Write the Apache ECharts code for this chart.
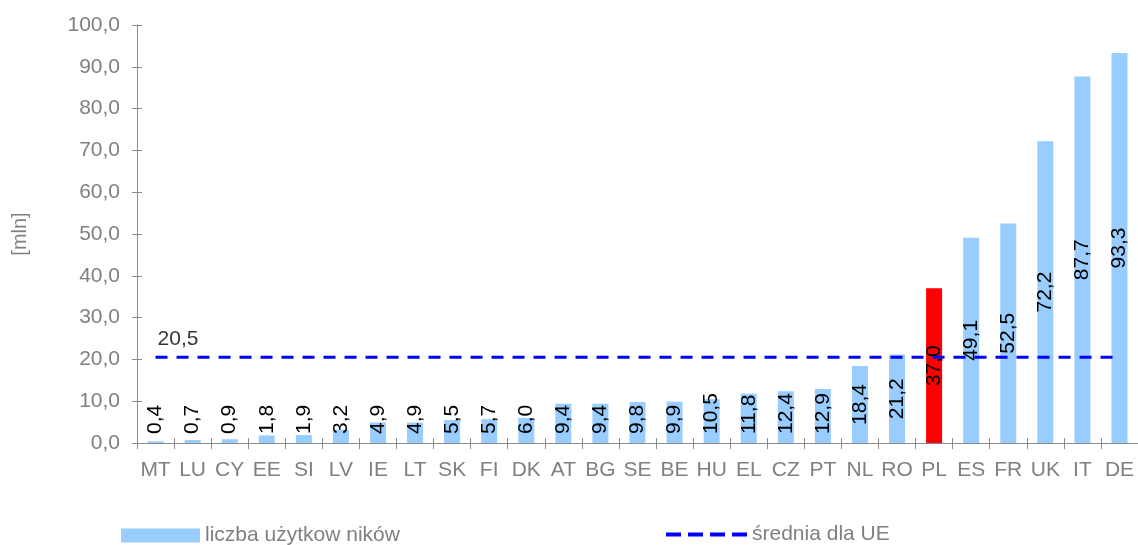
<!DOCTYPE html>
<html>
<head>
<meta charset="utf-8">
<script src="https://cdn.jsdelivr.net/npm/echarts@6/dist/echarts.min.js"></script>
<style>
html,body{margin:0;padding:0;background:#fff;}
#chart{width:1138px;height:545px;}
</style>
</head>
<body>
<div id="chart"></div>
<script>
var categories = ['MT','LU','CY','EE','SI','LV','IE','LT','SK','FI','DK','AT','BG','SE','BE','HU','EL','CZ','PT','NL','RO','PL','ES','FR','UK','IT','DE'];
var users = [0.4,0.7,0.9,1.8,1.9,3.2,4.9,4.9,5.5,5.7,6.0,9.4,9.4,9.8,9.9,10.5,11.8,12.4,12.9,18.4,21.2,37.0,49.1,52.5,72.2,87.7,93.3];
var euAverage = 20.5;
var highlighted = 'PL';
var yTicks = {min: 0, max: 100, interval: 10};
var seriesNames = ['liczba użytkow ników', 'średnia dla UE'];

var FONT = "'Liberation Sans', Arial, sans-serif";
var FS = 21;
var GRAY = '#808080';
var AXIS = '#8c8c8c';
var BLUE_BAR = '#99ccff';
function fmt(v){ return v.toFixed(1).replace('.', ','); }

var gridTop = 25, gridHeight = 418;
var pxPerUnit = gridHeight / (yTicks.max - yTicks.min);
var ctx = document.createElement('canvas').getContext('2d');
ctx.font = FS + 'px ' + FONT;

var barData = users.map(function(v, i){
  var len = ctx.measureText(fmt(v)).width;
  var h = v * pxPerUnit;
  var useCenter = (h/2 - len/2) >= 9;
  return {
    value: v,
    itemStyle: {color: categories[i] === highlighted ? '#ff0000' : BLUE_BAR},
    label: useCenter ? {position: 'inside', align: 'center', verticalAlign: 'middle'}
                     : {position: 'insideBottom', distance: 9, align: 'left', verticalAlign: 'middle'}
  };
});
var lineData = categories.map(function(){ return euAverage; });

var dashIcon = 'path://M0 0L15 0L15 4L0 4ZM22 0L37 0L37 4L22 4ZM44 0L59 0L59 4L44 4ZM66 0L81 0L81 4L66 4Z';

var chart = echarts.init(document.getElementById('chart'), null, {renderer: 'canvas'});
chart.setOption({
  animation: false,
  backgroundColor: '#fff',
  grid: {left: 137, top: gridTop, width: 1004, height: gridHeight, containLabel: false},
  legend: [
    {left: 121, top: 525, padding: 0, itemWidth: 79, itemHeight: 14, itemGap: 0, selectedMode: false,
     data: [{name: seriesNames[0], icon: 'rect', itemStyle: {color: BLUE_BAR}}],
     textStyle: {color: GRAY, fontSize: FS, fontFamily: FONT}},
    {left: 666, top: 524, padding: 0, itemWidth: 81, itemHeight: 14, itemGap: 0, selectedMode: false, symbolKeepAspect: true,
     data: [{name: seriesNames[1], icon: dashIcon, itemStyle: {color: '#0000ff', borderWidth: 0}}],
     textStyle: {color: GRAY, fontSize: FS, fontFamily: FONT}}
  ],
  xAxis: [
    {type: 'category', data: categories, boundaryGap: true,
     axisLine: {lineStyle: {color: AXIS, width: 1}},
     axisTick: {show: true, inside: false, length: 6, lineStyle: {color: AXIS}},
     axisLabel: {interval: 0, color: GRAY, fontSize: FS, fontFamily: FONT, margin: 17}},
    {type: 'category', data: categories, boundaryGap: true, position: 'bottom',
     axisLine: {show: false},
     axisTick: {show: true, inside: true, length: 5, lineStyle: {color: AXIS}},
     axisLabel: {show: false}}
  ],
  yAxis: [
    {type: 'value', min: yTicks.min, max: yTicks.max, interval: yTicks.interval, position: 'left',
     name: '[mln]', nameLocation: 'middle', nameGap: 107, nameRotate: 90,
     nameTextStyle: {color: GRAY, fontSize: 20, fontFamily: FONT},
     axisLine: {show: true, lineStyle: {color: AXIS, width: 1}},
     axisTick: {show: true, inside: false, length: 5, lineStyle: {color: AXIS}},
     splitLine: {show: false},
     axisLabel: {color: GRAY, fontSize: FS, fontFamily: FONT, margin: 17, formatter: function(v){ return fmt(v); }}},
    {type: 'value', min: yTicks.min, max: yTicks.max, interval: yTicks.interval, position: 'left', offset: 0,
     axisLine: {show: false},
     axisTick: {show: true, inside: true, length: 5, lineStyle: {color: AXIS}},
     splitLine: {show: false}, axisLabel: {show: false}}
  ],
  series: [
    {name: seriesNames[0], type: 'bar', data: barData, barWidth: 16,
     itemStyle: {color: BLUE_BAR},
     label: {show: true, rotate: 90, color: '#000', fontSize: FS, fontFamily: FONT, formatter: function(p){ return fmt(p.value); }},
     z: 2},
    {name: seriesNames[1], type: 'line', data: lineData, symbol: 'none', showSymbol: false,
     itemStyle: {color: '#0000ff'},
     lineStyle: {color: '#0000ff', width: 3, type: [12, 9]},
     z: 5},
    {name: 'avgLabel', type: 'scatter', data: [[categories[0], euAverage]], symbolSize: 1,
     itemStyle: {color: 'rgba(0,0,0,0)'}, silent: true, z: 6,
     label: {show: true, position: 'top', align: 'left', distance: 7, offset: [2, 0],
             formatter: function(){ return fmt(euAverage); }, color: '#000', fontSize: FS, fontFamily: FONT}}
  ]
});
</script>
</body>
</html>
